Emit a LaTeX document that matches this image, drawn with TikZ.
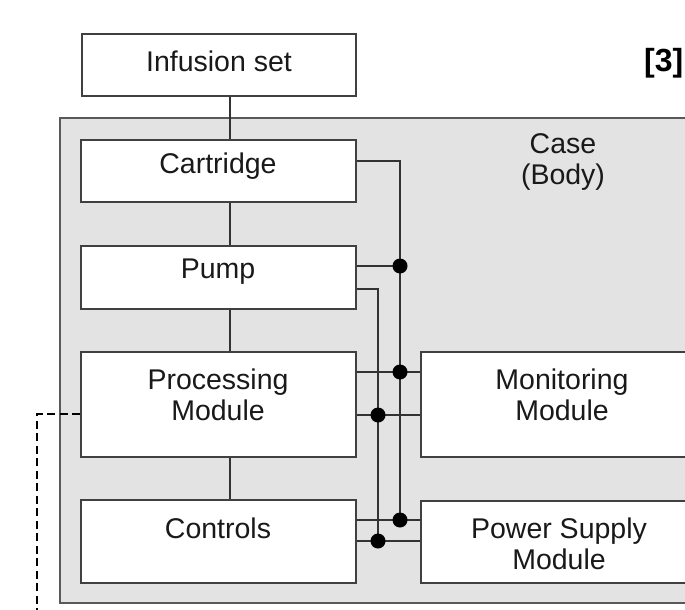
\documentclass[tikz,border=0pt]{standalone}
\usepackage{fontspec}
\setmainfont{Liberation Sans}
\begin{document}
\begin{tikzpicture}[x=1bp,y=-1bp,
  line width=1.5bp,
  ln/.style={draw=black!80, line width=1.8bp},
  box/.style={draw=black!75, fill=white, line width=1.8bp, inner sep=0pt},
  txt/.style={font=\fontsize{28.5bp}{31bp}\selectfont, align=center, text=black!90, inner sep=0pt},
  jdot/.style={circle, fill=black, inner sep=0pt, minimum size=15bp},
  dashln/.style={draw=black, line width=2.8bp, dash pattern=on 8bp off 4.5bp}]
\useasboundingbox (0,0) rectangle (685,610);
% case
\node[draw=black!65, fill=black!11, line width=1.8bp, inner sep=0pt, minimum width=645bp, minimum height=485bp] (case) at (382.5,360.5) {};
\node[txt] (casetxt) at (563,162) {Case\\(Body)};
% boxes
\node[box, minimum width=274bp, minimum height=62bp] (inf) at (219,65) {};
\node[box, minimum width=275bp, minimum height=62bp] (cart) at (218.5,171) {};
\node[box, minimum width=275bp, minimum height=63bp] (pump) at (218.5,277.5) {};
\node[box, minimum width=275bp, minimum height=105bp] (proc) at (218.5,404.5) {};
\node[box, minimum width=275bp, minimum height=83bp] (ctrl) at (218.5,541.5) {};
\node[box, minimum width=290bp, minimum height=105bp] (mon) at (566,404.5) {};
\node[box, minimum width=290bp, minimum height=82bp] (psu) at (566,542) {};
% texts
\node[txt] (inft) at (219,61) {Infusion set};
\node[txt] (cartt) at (218,166) {Cartridge};
\node[txt] (pumpt) at (218,272) {Pump};
\node[txt] (proct) at (218,395) {Processing\\Module};
\node[txt] (ctrlt) at (218,528) {Controls};
\node[txt] (mont) at (562,395) {Monitoring\\Module};
\node[txt] (psut) at (559,544) {Power Supply\\Module};
\node[font=\fontsize{32bp}{34bp}\selectfont\bfseries, anchor=east, inner sep=0pt] (ref) at (684,63) {[3]};
% vertical chain
\coordinate (vx) at (230,0);
\draw[ln] (inf.south -| vx) -- (cart.north -| vx);
\draw[ln] (cart.south -| vx) -- (pump.north -| vx);
\draw[ln] (pump.south -| vx) -- (proc.north -| vx);
\draw[ln] (proc.south -| vx) -- (ctrl.north -| vx);
% bus coordinates
\coordinate (a0) at (400,161);
\coordinate (a1) at (400,266);
\coordinate (a2) at (400,372);
\coordinate (a3) at (400,520);
\coordinate (b0) at (378,289);
\coordinate (b1) at (378,415);
\coordinate (b2) at (378,541);
% buses
\draw[ln] (cart.east |- a0) -- (a0) -- (a3);
\draw[ln] (pump.east |- a1) -- (a1);
\draw[ln] (pump.east |- b0) -- (b0) -- (b2);
\draw[ln] (proc.east |- a2) -- (mon.west |- a2);
\draw[ln] (proc.east |- b1) -- (mon.west |- b1);
\draw[ln] (ctrl.east |- a3) -- (psu.west |- a3);
\draw[ln] (ctrl.east |- b2) -- (psu.west |- b2);
% dots
\node[jdot] (d1) at (a1) {};
\node[jdot] (d2) at (a2) {};
\node[jdot] (d3) at (a3) {};
\node[jdot] (d4) at (b1) {};
\node[jdot] (d5) at (b2) {};
% dashed
\coordinate (dx) at (37,414);
\coordinate (dend) at (37,612);
\draw[dashln] (proc.west |- dx) -- (dx) -- (dend);
\end{tikzpicture}
\end{document}
